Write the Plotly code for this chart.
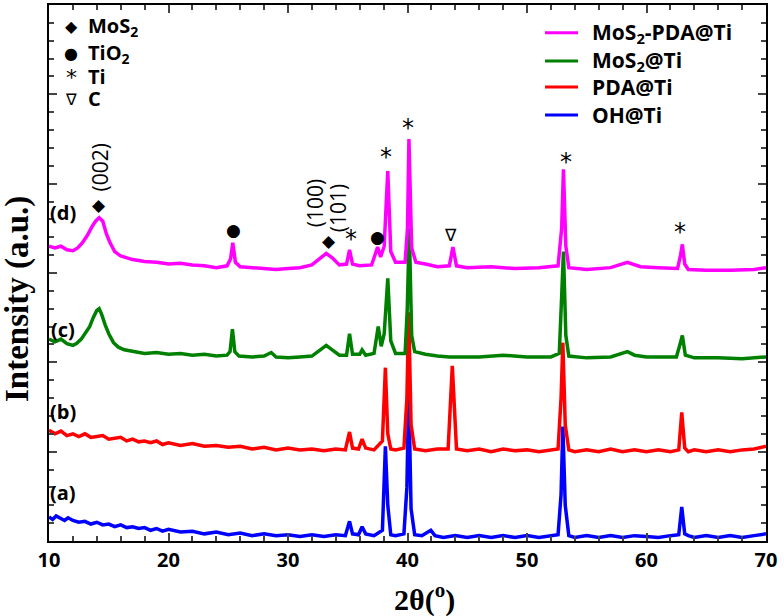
import plotly.graph_objects as go

# ---------------- data ----------------
x_oh = [10.0, 10.3, 10.6, 11.0, 11.3, 11.6, 12.0, 12.5, 13.0, 13.5, 14.0, 14.5, 15.0, 15.5, 16.0, 16.5, 17.0, 17.5,
        18.0, 18.5, 19.0, 19.5, 20.0, 21.0, 22.0, 23.0, 24.0, 25.0, 26.0, 27.0, 28.0, 29.0, 30.0, 31.0,
        32.0, 33.0, 34.0, 34.8, 35.15, 35.4, 35.9, 36.2, 36.5, 37.2, 37.9, 38.15, 38.35, 38.6, 39.0,
        39.7, 39.95, 40.1, 40.3, 40.6, 41.2, 41.95, 42.3, 43.0, 44.0, 45.0, 46.0, 47.0, 48.0, 49.0,
        50.0, 51.0, 52.0, 52.6, 52.85, 53.0, 53.2, 53.5, 54.0, 55.0, 56.0, 57.0, 58.0, 59.0, 60.0,
        61.0, 62.0, 62.7, 62.95, 63.2, 63.5, 64.0, 65.0, 66.0, 67.0, 68.0, 69.0, 70.0]
y_oh = [1.35, 1.2, 1.4, 1.25, 1.15, 1.3, 1.15, 1.05, 1.1, 0.95, 1.05, 0.9, 0.95, 0.8, 0.9, 0.75, 0.8, 0.7,
        0.75, 0.6, 0.7, 0.55, 0.65, 0.5, 0.55, 0.4, 0.5, 0.35, 0.45, 0.3, 0.4, 0.3, 0.35, 0.25,
        0.35, 0.25, 0.35, 0.3, 1.1, 0.4, 0.35, 0.8, 0.4, 0.3, 0.6, 5.3, 2.0, 0.35, 0.3,
        0.4, 3.0, 8.5, 1.8, 0.35, 0.3, 0.6, 0.3, 0.2, 0.3, 0.2, 0.3, 0.2, 0.3, 0.2,
        0.3, 0.2, 0.3, 0.35, 2.6, 6.4, 2.0, 0.3, 0.2, 0.3, 0.2, 0.3, 0.2, 0.3, 0.25,
        0.2, 0.3, 0.35, 1.9, 0.4, 0.3, 0.2, 0.3, 0.2, 0.3, 0.2, 0.3, 0.4]

x_pda = [10.0, 10.5, 11.0, 11.5, 12.0, 12.5, 13.0, 13.5, 14.0, 14.5, 15.0, 15.5, 16.0, 16.5, 17.0, 17.5,
         18.0, 18.5, 19.0, 19.5, 20.0, 21.0, 22.0, 23.0, 24.0, 25.0, 26.0, 27.0, 28.0, 29.0, 30.0, 31.0,
         32.0, 33.0, 34.0, 34.8, 35.15, 35.4, 35.9, 36.2, 36.5, 37.2, 37.9, 38.15, 38.35, 38.6, 39.0,
         39.7, 39.95, 40.1, 40.3, 40.6, 41.5, 42.5, 43.4, 43.75, 44.1, 45.0, 46.0, 47.0, 48.0, 49.0,
         50.0, 51.0, 52.0, 52.6, 52.85, 53.0, 53.2, 53.5, 54.0, 55.0, 56.0, 57.0, 58.0, 59.0, 60.0,
         61.0, 62.0, 62.7, 62.95, 63.2, 63.5, 64.0, 65.0, 66.0, 67.0, 68.0, 69.0, 70.0]
y_pda = [6.2, 6.0, 6.15, 5.9, 6.0, 5.85, 6.0, 5.8, 5.85, 5.9, 5.7, 5.75, 5.8, 5.6, 5.7, 5.55,
         5.6, 5.5, 5.6, 5.4, 5.5, 5.35, 5.45, 5.3, 5.35, 5.25, 5.3, 5.15, 5.25, 5.1, 5.2, 5.1,
         5.15, 5.05, 5.15, 5.1, 6.1, 5.2, 5.15, 5.7, 5.2, 5.1, 5.6, 9.7, 6.0, 5.15, 5.1,
         5.2, 8.0, 12.8, 6.5, 5.15, 5.05, 5.15, 5.15, 9.8, 5.15, 5.05, 5.15, 5.0, 5.15, 5.05,
         5.1, 5.0, 5.1, 5.15, 8.0, 11.1, 6.5, 5.1, 5.0, 5.1, 5.0, 5.15, 5.0, 5.1, 5.0,
         5.1, 5.0, 5.1, 7.2, 5.2, 5.0, 5.1, 5.0, 5.1, 5.0, 5.1, 5.15, 5.3]

x_mos = [10.0, 10.5, 11.0, 11.5, 12.0, 12.3, 12.7, 13.0, 13.4, 13.7, 14.0, 14.2, 14.4, 14.7, 15.0, 15.4,
         15.8, 16.3, 17.0, 18.0, 19.0, 20.0, 21.0, 22.0, 23.0, 24.0, 24.9, 25.15, 25.35, 25.55, 25.9,
         27.0, 28.0, 28.6, 29.0, 30.0, 31.0, 32.0, 32.7, 33.2, 33.7, 34.3, 34.9, 35.15, 35.4, 36.0,
         36.2, 36.5, 37.2, 37.55, 37.8, 38.05, 38.35, 38.6, 39.0, 39.8, 39.98, 40.15, 40.35, 40.6,
         41.5, 42.5, 43.5, 44.5, 46.0, 48.0, 50.0, 52.0, 52.7, 52.92, 53.05, 53.25, 53.5, 55.0, 57.0,
         58.4, 59.0, 60.0, 62.5, 62.8, 63.0, 63.25, 64.0, 66.0, 68.0, 70.0]
y_mos = [11.3, 11.15, 11.3, 11.05, 10.95, 11.05, 11.3, 11.6, 12.0, 12.5, 12.9, 13.0, 12.7, 12.1, 11.6, 11.1,
         10.85, 10.7, 10.6, 10.5, 10.55, 10.45, 10.5, 10.4, 10.45, 10.35, 10.4, 10.6, 11.85, 10.6, 10.35,
         10.3, 10.35, 10.55, 10.3, 10.25, 10.3, 10.35, 10.7, 10.95, 10.7, 10.4, 10.4, 11.6, 10.45, 10.45,
         10.7, 10.4, 10.5, 12.0, 10.9, 11.6, 14.7, 11.2, 10.5, 10.5, 13.0, 17.5, 11.5, 10.6,
         10.45, 10.35, 10.3, 10.3, 10.3, 10.4, 10.3, 10.3, 10.5, 14.0, 16.2, 11.5, 10.35, 10.25, 10.3,
         10.6, 10.4, 10.3, 10.3, 11.0, 11.5, 10.4, 10.25, 10.25, 10.2, 10.3]

x_mpda = [10.0, 10.5, 11.0, 11.5, 12.0, 12.4, 12.8, 13.2, 13.6, 13.9, 14.2, 14.5, 14.8, 15.1, 15.5, 16.0,
          17.0, 18.0, 19.0, 20.0, 21.0, 22.0, 23.0, 24.0, 24.9, 25.2, 25.38, 25.6, 26.0, 27.0, 28.0,
          29.0, 30.0, 31.0, 32.0, 32.7, 33.2, 33.7, 34.3, 34.9, 35.15, 35.4, 36.0, 37.0, 37.5, 37.75,
          38.05, 38.35, 38.6, 39.0, 39.8, 40.0, 40.12, 40.35, 40.7, 41.5, 42.5, 43.5, 43.8, 44.1, 45.0,
          47.0, 49.0, 51.0, 52.6, 52.9, 53.05, 53.25, 53.5, 55.0, 57.0, 58.4, 59.5, 61.0, 62.6, 62.85,
          63.0, 63.2, 63.5, 65.0, 67.0, 69.0, 70.0]
y_mpda = [16.5, 16.4, 16.5, 16.3, 16.25, 16.4, 16.7, 17.1, 17.6, 17.9, 18.1, 17.9, 17.2, 16.7, 16.2, 15.95,
          15.75, 15.65, 15.6, 15.5, 15.55, 15.45, 15.4, 15.3, 15.4, 15.8, 16.7, 15.6, 15.35, 15.3, 15.25,
          15.2, 15.25, 15.3, 15.45, 15.8, 16.1, 15.85, 15.45, 15.5, 16.3, 15.5, 15.4, 15.45, 16.45, 15.9,
          16.5, 20.7, 16.2, 15.6, 15.6, 17.5, 22.5, 16.4, 15.6, 15.5, 15.35, 15.4, 16.45, 15.4, 15.3,
          15.35, 15.25, 15.3, 15.4, 17.5, 20.8, 16.5, 15.3, 15.2, 15.3, 15.6, 15.35, 15.3, 15.25, 16.0,
          16.6, 15.5, 15.2, 15.15, 15.15, 15.2, 15.3]

series_names = ["OH@Ti", "PDA@Ti", "MoS<sub>2</sub>@Ti", "MoS<sub>2</sub>-PDA@Ti"]
series_colors = ["#0000ff", "#ff0000", "#008000", "#ff00ff"]
series_x = [x_oh, x_pda, x_mos, x_mpda]
series_y = [y_oh, y_pda, y_mos, y_mpda]

# sample labels: text, x, y
sample_labels = ["(a)", "(b)", "(c)", "(d)"]
sample_label_x = [11.2, 11.2, 11.2, 11.2]
sample_label_y = [2.7, 7.25, 11.85, 18.4]

# peak markers: symbol, x, y
peak_sym = ["◆", "●", "◆", "*", "●", "*", "*", "∇", "*", "*"]
peak_x = [14.2, 25.4, 33.4, 35.3, 37.45, 38.2, 40.0, 43.6, 53.3, 62.8]
peak_y = [18.8, 17.4, 16.8, 16.9, 17.0, 21.5, 23.1, 17.1, 21.2, 17.3]

# Miller indices: text, x, y
hkl_text = ["(002)", "(100)", "(101)"]
hkl_x = [14.25, 32.25, 34.15]
hkl_y = [20.9, 18.9, 18.6]

# phase key (top left)
key_sym = ["◆", "●", "*", "∇"]
key_text = ["MoS<sub>2</sub>", "TiO<sub>2</sub>", "Ti", "C"]

fig = go.Figure()
for xs, ys, nm, col in zip(series_x, series_y, series_names, series_colors):
    fig.add_trace(go.Scatter(x=xs, y=ys, mode="lines", name=nm, showlegend=False,
                             line=dict(color=col, width=3.5)))

lab_font = dict(family="Open Sans", size=20, color="black", weight="bold")
for t, xx, yy in zip(sample_labels, sample_label_x, sample_label_y):
    fig.add_annotation(x=xx, y=yy, text=t, showarrow=False, font=lab_font)

for s, xx, yy in zip(peak_sym, peak_x, peak_y):
    fig.add_annotation(x=xx, y=yy, text=s, showarrow=False,
                       font=dict(family="DejaVu Sans", size=17 if s != "*" else 24, color="black"))

for t, xx, yy in zip(hkl_text, hkl_x, hkl_y):
    fig.add_annotation(x=xx, y=yy, text=t, showarrow=False, textangle=-90,
                       font=dict(family="Open Sans", size=21, color="black"))

# phase key, top left (paper coordinates)
key_y = [0.96, 0.91, 0.866, 0.825]
for s, t, yy in zip(key_sym, key_text, key_y):
    fig.add_annotation(xref="paper", yref="paper", x=0.031, y=yy, xanchor="center", yanchor="middle",
                       text=s, showarrow=False, height=20,
                       font=dict(family="DejaVu Sans", size=16 if s != "*" else 22, color="black"))
    fig.add_annotation(xref="paper", yref="paper", x=0.0516, y=yy, xanchor="left", yanchor="middle",
                       text=t, showarrow=False, height=21,
                       font=dict(family="Open Sans", size=20, color="black", weight="bold"))

# series key, top right (drawn in reversed order like the reference)
leg_y = [0.795, 0.847, 0.8955, 0.948]
for nm, col, yy in zip(series_names, series_colors, leg_y):
    fig.add_shape(type="line", xref="paper", yref="paper", x0=0.6918, x1=0.7378, y0=yy, y1=yy,
                  line=dict(color=col, width=3))
    fig.add_annotation(xref="paper", yref="paper", x=0.7545, y=yy, xanchor="left", yanchor="middle",
                       text=nm, showarrow=False, height=24,
                       font=dict(family="Open Sans", size=21, color="black", weight="bold"))

# axis titles
fig.add_annotation(xref="paper", yref="paper", x=0.524, y=-0.1045, xanchor="center", yanchor="middle",
                   text="<b>2θ(<sup>o</sup>)</b>", showarrow=False,
                   font=dict(family="Liberation Serif", size=30, color="black"))
fig.add_annotation(xref="paper", yref="paper", x=-0.0432, y=0.4515, xanchor="center", yanchor="middle",
                   text="<b>Intensity (a.u.)</b>", showarrow=False, textangle=-90,
                   font=dict(family="Liberation Serif", size=33, color="black"))

fig.update_xaxes(range=[10, 70], dtick=10, ticks="inside", ticklen=8, tickwidth=2,
                 minor=dict(dtick=2, ticks="inside", ticklen=5, tickwidth=1.5),
                 showline=True, linecolor="black", linewidth=2, mirror="ticks",
                 showgrid=False, zeroline=False, automargin=False,
                 tickfont=dict(family="Open Sans", size=20, color="black", weight="bold"))
fig.update_yaxes(range=[0, 30], dtick=5, ticks="inside", ticklen=8, tickwidth=2,
                 minor=dict(dtick=1, ticks="inside", ticklen=5, tickwidth=1.5),
                 showline=True, linecolor="black", linewidth=2, mirror="ticks",
                 showgrid=False, zeroline=False, showticklabels=False, automargin=False)

fig.update_layout(width=784, height=616, plot_bgcolor="white", paper_bgcolor="white",
                  margin=dict(l=49, r=18, t=5, b=75, autoexpand=False), showlegend=False)

fig.write_html("out.html", config={"displayModeBar": False},
               post_script="document.body.style.margin='0';document.body.style.padding='0';")
